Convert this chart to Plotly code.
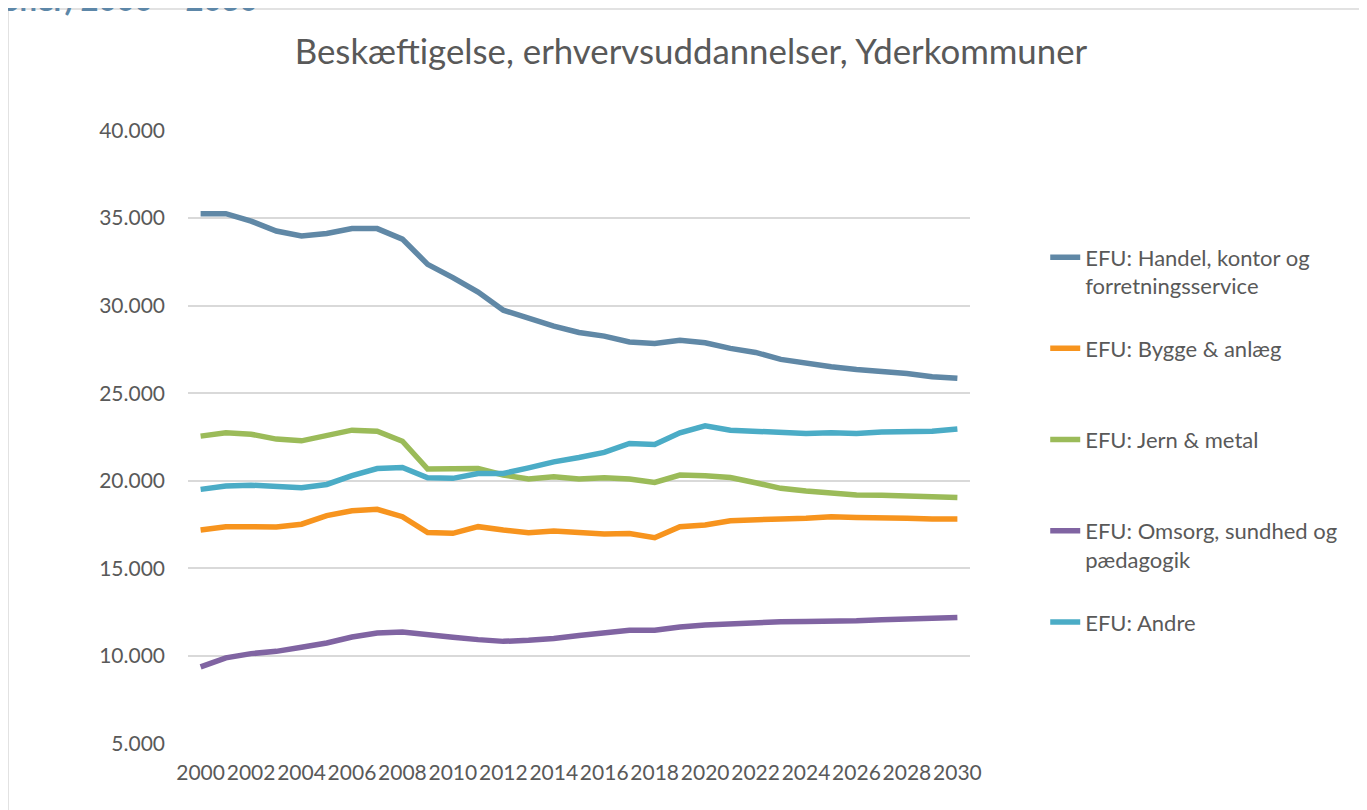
import plotly.graph_objects as go

years = list(range(2000, 2031))

handel = [35250, 35250, 34830, 34260, 33980, 34120, 34400, 34400, 33800, 32360,
          31600, 30780, 29740, 29270, 28830, 28470, 28260, 27930, 27840, 28030,
          27880, 27560, 27330, 26930, 26700, 26510, 26360, 26280, 26130, 25940, 25850]
bygge = [17190, 17380, 17380, 17360, 17520, 18010, 18290, 18370, 17950, 17040,
         17000, 17380, 17190, 17040, 17130, 17080, 16960, 16990, 16750, 17380,
         17480, 17720, 17800, 17820, 17860, 17950, 17910, 17910, 17860, 17820, 17820]
jern = [22550, 22740, 22660, 22380, 22280, 22600, 22890, 22830, 22260, 20670,
        20700, 20700, 20330, 20100, 20230, 20100, 20170, 20100, 19910, 20330,
        20290, 20190, 19890, 19570, 19420, 19320, 19190, 19170, 19130, 19050, 19050]
omsorg = [9370, 9890, 10130, 10260, 10490, 10740, 11080, 11310, 11370, 11250,
          11070, 10930, 10830, 10890, 10990, 11170, 11340, 11460, 11460, 11650,
          11760, 11840, 11900, 11950, 11970, 11970, 12010, 12070, 12110, 12160, 12200]
andre = [19510, 19700, 19750, 19640, 19600, 19790, 20290, 20700, 20760, 20170,
         20140, 20420, 20420, 20740, 21080, 21330, 21620, 22130, 22070, 22740,
         23140, 22890, 22830, 22700, 22700, 22740, 22700, 22790, 22830, 22830, 22960]

series_names = [
    "EFU: Handel, kontor og<br>forretningsservice",
    "EFU: Bygge & anlæg<br> ",
    "EFU: Jern & metal<br> ",
    "EFU: Omsorg, sundhed og<br>pædagogik",
    "EFU: Andre<br> ",
]
series_values = [handel, bygge, jern, omsorg, andre]
series_colors = ["#6088a6", "#f7941e", "#9bbb59", "#8064a2", "#4bacc6"]

title_text = "Beskæftigelse, erhvervsuddannelser, Yderkommuner"
header_text = "(personer) 2000 – 2030"
x_ticks = list(range(2000, 2031, 2))
y_ticks = list(range(5000, 40001, 5000))

FONT = "Lato"
GREY = "#595959"

# page body adds an 8px offset; margins are set so the plot lands where the reference has it
ML, MT = 180, 122
PLOT_W, PLOT_H = 782, 614
MR = 1367 - ML - PLOT_W
MB = 810 - MT - PLOT_H


def paper_y(fig_px):
    return 1 - (fig_px - MT) / PLOT_H


def paper_x(fig_px):
    return (fig_px - ML) / PLOT_W


fig = go.Figure()
for i, (name, vals, col) in enumerate(zip(series_names, series_values, series_colors)):
    fig.add_trace(go.Scatter(
        x=years, y=vals, name=name, mode="lines",
        line=dict(color=col, width=5.5),
        legendgroup=f"g{i}",
    ))

fig.update_layout(
    width=1367, height=810,
    paper_bgcolor="white", plot_bgcolor="white",
    margin=dict(l=ML, r=MR, t=MT, b=MB),
    separators=",.",
    font=dict(family=FONT, color=GREY, size=20),
    title=dict(text=title_text, x=(691 - 8) / 1367, xref="container", xanchor="center",
               y=1 - (52 - 8) / 810, yref="container", yanchor="middle",
               font=dict(family=FONT, size=34.8, color=GREY)),
    showlegend=True,
    legend=dict(x=1.0962, xanchor="left", y=0.8268, yanchor="top",
                font=dict(family=FONT, size=22, color=GREY),
                valign="top", tracegroupgap=31, traceorder="grouped",
                bgcolor="rgba(0,0,0,0)"),
    xaxis=dict(range=[1999.5, 2030.5], tickvals=x_ticks, ticktext=[str(t) for t in x_ticks],
               showgrid=False, zeroline=False, showline=False, ticks="",
               tickangle=0, ticklabelstandoff=14,
               tickfont=dict(family=FONT, size=21, color=GREY)),
    yaxis=dict(range=[4970, 40030], tickvals=y_ticks, tickformat=",d",
               showgrid=True, gridcolor="#d9d9d9", gridwidth=1.5,
               zeroline=False, showline=False, ticks="", ticklabelstandoff=22,
               tickfont=dict(family=FONT, size=21, color=GREY)),
    shapes=[dict(type="rect", xref="paper", yref="paper",
                 x0=paper_x(0), x1=1.7, y0=-0.3, y1=paper_y(1),
                 line=dict(color="#d9d9d9", width=1.5), fillcolor="rgba(0,0,0,0)",
                 layer="below")],
    annotations=[dict(text="<b>" + header_text + "</b>", xref="paper", yref="paper",
                      x=paper_x(251), xanchor="right",
                      y=paper_y(12), yanchor="bottom", showarrow=False,
                      font=dict(family=FONT, size=31, color="#5d87a8"))],
)

fig.write_html("out.html")
